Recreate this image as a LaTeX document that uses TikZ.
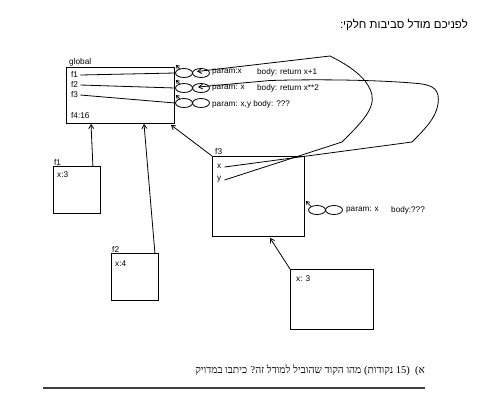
\documentclass[tikz,border=0pt]{standalone}
\usepackage{fontspec}
\setmainfont{Liberation Sans}
\newfontfamily\hebsans[Script=Hebrew]{Liberation Sans}
\newfontfamily\hebserif[Script=Hebrew]{Liberation Serif}
\TeXXeTstate=1
\usetikzlibrary{shapes.geometric,arrows.meta,calc}
\begin{document}
\begin{tikzpicture}[x=1bp,y=-1bp,
  lbl/.style={anchor=west,inner sep=0pt,font=\fontsize{8.3}{9}\selectfont},
  ctext/.style={anchor=west,inner sep=0pt,font=\fontsize{8.2}{9}\selectfont},
  frame/.style={draw,line width=0.9bp,anchor=north west,inner sep=0pt},
  ell/.style={draw,ellipse,line width=0.8bp,minimum width=17bp,minimum height=9bp,inner sep=0pt},
  arr/.style={line width=0.8bp,-{Straight Barb[length=4bp,width=5bp]}},
  sarr/.style={line width=0.7bp,-{Straight Barb[length=3bp,width=4bp]}},
  ln/.style={line width=0.8bp}]
\useasboundingbox (0,0) rectangle (481,404);
\fill[white] (0,0) rectangle (481,404);

% header text
\node[anchor=east,inner sep=0pt,font=\fontsize{11.5}{13}\selectfont] (hdr) at (468,25) {\hebsans\beginR לפניכם מודל סביבות חלקי:\endR};

% frames
\node[frame,minimum width=108bp,minimum height=56bp] (global) at (66,67) {};
\node[frame,minimum width=47bp,minimum height=47bp] (f1box) at (53,166) {};
\node[frame,minimum width=47bp,minimum height=47bp] (f2box) at (111,253) {};
\node[frame,minimum width=92bp,minimum height=80bp] (f3box) at (212,156) {};
\node[frame,minimum width=83bp,minimum height=60bp] (anon) at (290,269) {};

% frame labels
\node[lbl] (tglobal) at (69,62) {global};
\node[lbl] (tf1) at (71,75) {f1};
\node[lbl] (tf2) at (71,85) {f2};
\node[lbl] (tf3) at (71,95) {f3};
\node[lbl] (tf4) at (71,116) {f4:16};
\node[lbl] (t1) at (54,162) {f1};
\node[lbl] (x1) at (57,175) {x:3};
\node[lbl] (t2) at (112,249) {f2};
\node[lbl] (x2) at (115,264) {x:4};
\node[lbl] (t3) at (215,152) {f3};
\node[lbl] (x3) at (217,166) {x};
\node[lbl] (y3) at (217,179) {y};
\node[lbl] (xa) at (296,279) {x: 3};

% closures
\node[ell] (c1a) at (184,73) {};
\node[ell] (c1b) at (201,73) {};
\node[ell] (c2a) at (184,88) {};
\node[ell] (c2b) at (201,88) {};
\node[ell] (c3a) at (184,103) {};
\node[ell] (c3b) at (201,103) {};
\node[ell] (c4a) at (317,210) {};
\node[ell] (c4b) at (334,210) {};

\node[ctext] (p1) at (212,72) {param:x};
\node[ctext] (b1) at (257,72) {body: return x+1};
\node[ctext] (p2) at (212,88) {param: x};
\node[ctext] (b2) at (257,88) {body: return x**2};
\node[ctext] (p3) at (212,104) {param: x,y body: ???};
\node[ctext] (p4) at (346,210) {param: x};
\node[ctext] (b4) at (391,210) {body:???};

% bindings in global
\draw[ln] ($(tf1.east)+(2,0)$) -- (c1a.west);
\draw[ln] ($(tf2.east)+(2,0)$) -- (c2a.west);
\draw[ln] ($(tf3.east)+(2,0)$) -- (c3a.west);

% closure environment pointers
\draw[sarr] ($(c1a.center)+(-4,-4)$) -- ($(global.north east)+(1,-2)$);
\draw[sarr] ($(c2a.center)+(-4,-4)$) -- ($(global.north east)+(1,13)$);
\draw[sarr] ($(c3a.center)+(-4,-4)$) -- ($(global.north east)+(1,28)$);
\draw[sarr] ($(c4a.center)+(-6,-3.5)$) -- ($(f3box.north east)+(1,45)$);

% frame parent pointers
\draw[arr] ($(f1box.north east)+(-8,0)$) -- ($(global.south west)+(25,0)$);
\draw[arr] ($(f2box.north east)+(-4,0)$) -- ($(global.south west)+(78,0)$);
\draw[arr] (f3box.north west) -- ($(global.south east)+(-4,1)$);
\draw[arr] (anon.north west) -- ($(f3box.south west)+(58,1)$);

% y -> closure 1
\draw[arr] ($(y3.east)+(3,1)$) -- (342,142)
  .. controls (358,126) and (375,110) .. (372,95)
  .. controls (368,78) and (350,66) .. (330,56)
  -- ($(c1b.center)+(-4,-1.5)$);
% x -> closure 2
\draw[arr] ($(x3.east)+(3,1)$) -- (412,142)
  .. controls (424,130) and (436,118) .. (438,104)
  .. controls (440,90) and (434,85) .. (418,83.5)
  .. controls (380,80) and (320,79) .. (270,80.5)
  -- ($(c2b.center)+(-3,-1)$);

% question
\node[anchor=east,inner sep=0pt,font=\fontsize{10.5}{12}\selectfont] (q) at (425,370) {\hebserif\beginR א)\ \ (\beginL 15\endL{} נקודות) מהו הקוד שהוביל למודל זה? כיתבו במדויק\endR};
\coordinate (r0) at (43,388);
\coordinate (r1) at (425,388);
\draw[line width=1.2bp,black!75] (r0) -- (r1);
\end{tikzpicture}
\end{document}
